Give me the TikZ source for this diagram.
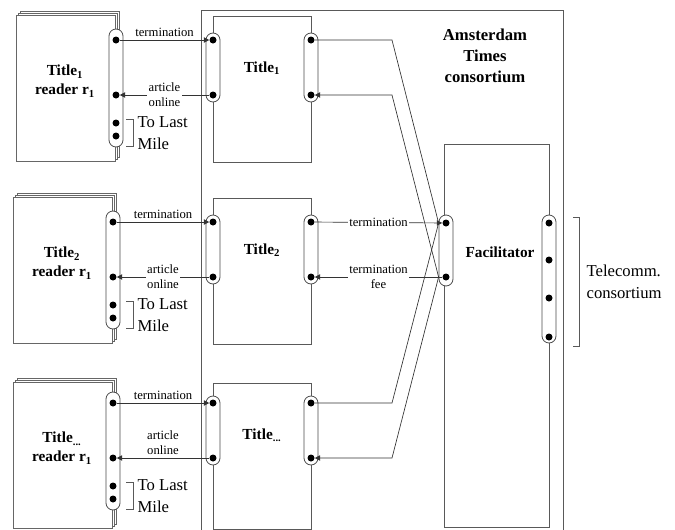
\documentclass[tikz,border=0pt]{standalone}
\usepackage{fontspec}
\setmainfont{Liberation Serif}
\usetikzlibrary{arrows.meta,fit,calc}
\tikzset{
  page/.style ={draw=black!60, fill=white, inner sep=0pt, line width=0.6pt},
  box/.style  ={draw=black!65, inner sep=0pt, line width=0.6pt},
  port/.style ={draw=black!70, fill=white, rounded corners=5.25pt,
                inner xsep=5.25pt, inner ysep=0pt, line width=0.6pt},
  dotn/.style ={circle, fill=black, inner sep=0pt, minimum size=5.25pt},
  flow/.style ={-{Triangle[length=4pt,width=4pt]}, draw=black!80, line width=0.5pt},
  wire/.style ={draw=black!80, line width=0.5pt},
  lbl/.style  ={font=\fontsize{9.5}{11.25}\selectfont, inner sep=1pt, align=center},
  onl/.style  ={lbl, fill=white},   % label across the line
  abl/.style  ={lbl, above=1pt},    % label over the line
  head/.style ={font=\fontsize{11.5}{14.25}\selectfont\bfseries, align=center},
  big/.style  ={font=\fontsize{12.5}{16.5}\selectfont, align=left, inner sep=1pt},
}

\begin{document}
\begin{tikzpicture}[x=0.75pt, y=-0.75pt]
  \useasboundingbox (0,0) rectangle (675,529);
  \clip (0,0) rectangle (675,529);
  % consortium frame, open at the bottom
  \draw[box] (201,540) -- (201,10) -- (563,10) -- (563,540);
  \node[head, font=\fontsize{12.5}{15.75}\selectfont\bfseries] (ams) at (485,56)
       {Amsterdam\\Times\\consortium};
  % facilitator
  \node[box, fit={(444,144)(549,527)}] (fac) {};
  \node[head] (faclbl) at (500,252) {Facilitator};
  \node[port, fit={(446,215)(446,286)}] (facL) {};
  \node[port, fit={(549,215)(549,343)}] (facR) {};
  \node[dotn] (fl1) at (446,223) {};
  \node[dotn] (fl2) at (446,277) {};
  \foreach \j/\y in {1/223,2/260,3/298,4/337}
    \node[dotn] (fr\j) at (549,\y) {};
  \coordinate (fin)  at (facL.west |- fl1);
  \coordinate (fout) at (facL.west |- fl2);
  \coordinate (bx)   at (392,0);
  % telecomm bracket
  \draw[box] (573,217) -| (579,346) -- (573,346);
  \node[big, anchor=west] (tel) at (585,282) {Telecomm.\\consortium};
  % reader and title rows
  \foreach \i/\s/\rx/\ty/\dy/\al in {1/1/16/15/40/onl, 2/2/13/197/222/onl, 3/{...}/13/382/403/abl}{
    \foreach \o in {4,2}
      \node[page, fit={(\rx+\o,\ty-\o)(\rx+99+\o,\ty+146-\o)}] {};
    \node[page, fit={(\rx,\ty)(\rx+99,\ty+146)}] (rdr\i) {};
    \node[head] at (\rx+49,\ty+66) {Title\textsubscript{\s}\\reader r\textsubscript{1}};
    \node[port, fit={(\rx+100,\dy-11)(\rx+100,\dy+107)}] (rp\i) {};
    \foreach \j/\d in {1/0,2/55,3/83,4/96}
      \node[dotn] (r\i-\j) at (\rx+100,\dy+\d) {};
    \draw[box] (126,\dy+79) -| (133,\dy+106) -- (126,\dy+106);
    \node[big, anchor=west] at (136,\dy+93.5) {To Last\\Mile};
    % title box
    \node[box, fit={(213,\ty+1)(311,\ty+147)}] (ttl\i) {};
    \node[head] at (262,\ty+53) {Title\textsubscript{\s}};
    \node[port, fit={(213,\dy-7)(213,\dy+62)}] (tlp\i) {};
    \node[port, fit={(311,\dy-7)(311,\dy+62)}] (trp\i) {};
    \node[dotn] (tl\i-1) at (213,\dy) {};
    \node[dotn] (tl\i-2) at (213,\dy+55) {};
    \node[dotn] (tr\i-1) at (311,\dy) {};
    \node[dotn] (tr\i-2) at (311,\dy+55) {};
    \draw[flow] (r\i-1) -- node[abl] {termination} (tl\i-1);
    \draw[flow] (tl\i-2) -- node[\al] {article\\online} (r\i-2);
  }
  % titles to facilitator
  \draw[flow] (tr2-1) -- node[onl] {termination} (fl1);
  \draw[flow] (fl2) -- node[onl] {termination\\fee} (tr2-2);
  \draw[wire] (tr1-1) -- (tr1-1 -| bx) -- (fin);
  \draw[wire] (tr3-1) -- (tr3-1 -| bx) -- (fin);
  \draw[flow] (fout) -- (tr1-2 -| bx) -- (tr1-2);
  \draw[flow] (fout) -- (tr3-2 -| bx) -- (tr3-2);
\end{tikzpicture}
\end{document}
